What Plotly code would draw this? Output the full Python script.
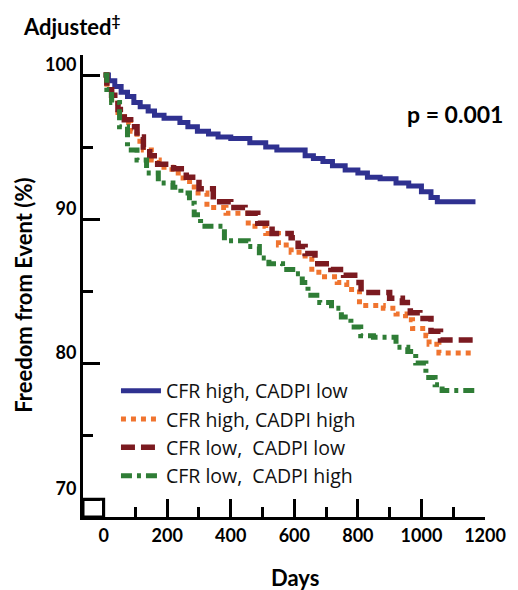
import plotly.graph_objects as go

# ---------------- data ----------------
series_names = ["CFR high, CADPI low", "CFR high, CADPI high",
                "CFR low,\u00a0 CADPI low", "CFR low,\u00a0 CADPI high"]

days_blue = [0, 15, 35, 55, 75, 95, 115, 140, 160, 190, 240, 265, 295, 330, 360, 400,
             460, 510, 545, 634, 660, 690, 720, 760, 800, 830, 870, 920, 960, 1000,
             1030, 1050, 1170]
surv_blue = [100, 99.6, 99.2, 98.8, 98.5, 98.1, 97.8, 97.5, 97.2, 97.0, 96.7, 96.4,
             96.1, 95.9, 95.7, 95.6, 95.3, 95.0, 94.8, 94.4, 94.2, 94.0, 93.7, 93.4,
             93.2, 92.9, 92.8, 92.5, 92.3, 91.9, 91.5, 91.2, 91.2]

days_orange = [0, 10, 25, 45, 65, 85, 105, 125, 150, 175, 215, 250, 285, 325, 385, 455,
               510, 550, 590, 634, 655, 695, 735, 765, 805, 880, 920, 950, 972, 1014,
               1024, 1055, 1170]
surv_orange = [100, 99.0, 98.3, 97.4, 96.7, 96.1, 95.4, 94.8, 94.1, 93.6, 93.2, 92.6,
               91.8, 90.8, 90.4, 89.5, 89.0, 88.2, 87.7, 87.2, 86.3, 86.0, 85.6, 85.1,
               84.0, 83.8, 83.4, 83.0, 82.4, 81.9, 81.3, 80.7, 80.7]

days_red = [0, 10, 25, 45, 65, 85, 105, 125, 145, 170, 220, 260, 300, 345, 400, 445,
            485, 530, 590, 612, 634, 665, 715, 755, 790, 810, 900, 940, 965, 995, 1030,
            1060, 1170]
surv_red = [100, 99.2, 98.6, 97.6, 96.9, 96.4, 95.7, 95.0, 94.4, 93.8, 93.5, 92.9, 92.1,
            91.2, 90.8, 90.4, 89.7, 89.0, 88.7, 88.1, 87.6, 86.9, 86.5, 86.1, 85.6, 84.9,
            84.5, 84.2, 83.5, 83.1, 82.2, 81.6, 81.6]

days_green = [0, 10, 25, 50, 75, 105, 135, 172, 218, 243, 270, 285, 305, 380, 455, 490,
              520, 563, 603, 625, 643, 680, 717, 748, 778, 809, 849, 920, 957, 982, 1014,
              1043, 1065, 1170]
surv_green = [100, 99.0, 98.1, 96.4, 94.8, 94.1, 93.2, 92.5, 92.2, 91.8, 91.1, 90.3,
              89.5, 88.5, 88.1, 87.3, 86.9, 86.5, 86.2, 85.6, 84.7, 84.2, 83.8, 83.2,
              82.5, 81.9, 81.8, 81.1, 80.8, 80.0, 79.0, 78.5, 78.1, 78.1]

x_tickvals = [0, 200, 400, 600, 800, 1000, 1200]
x_ticktext = ["0", "200", "400", "600", "800", "1000", "1200"]
x_minor = [100, 300, 500, 700, 900, 1100]
y_tickvals = [70.55, 80, 90, 100]
y_ticktext = ["70", "80", "90", "100"]
y_minor = [75, 85, 95]

# ---------------- figure ----------------
FONT = "Lato"
LEG_FONT = "Open Sans"
fig = go.Figure()
styles = [
    dict(color="#2f3190", width=5, dash="solid"),
    dict(color="#f0742f", width=5, dash="5px,5px"),
    dict(color="#7b1a20", width=5.5, dash="14px,6px"),
    dict(color="#2f7d36", width=5, dash="11px,5px,4px,5px"),
]
data = [(days_blue, surv_blue), (days_orange, surv_orange),
        (days_red, surv_red), (days_green, surv_green)]
for (dx, sy), name, st in zip(data, series_names, styles):
    fig.add_trace(go.Scatter(x=dx, y=sy, mode="lines", name=name,
                             line=dict(shape="hv", **st)))

# page body has an 8px margin, so the figure is 8px smaller and offset
fig.update_layout(
    width=510, height=582,
    margin=dict(l=75, r=23, t=47, b=73),
    paper_bgcolor="white", plot_bgcolor="white",
    font=dict(family=FONT, color="black"),
    showlegend=True,
    legend=dict(x=0.082, y=0.315, xanchor="left", yanchor="top",
                bgcolor="rgba(0,0,0,0)", font=dict(size=19.5, family=LEG_FONT, color="#111"),
                tracegroupgap=0, itemwidth=40),
)
fig.update_xaxes(
    range=[-65, 1200], showgrid=False, zeroline=False,
    showline=True, linecolor="black", linewidth=3,
    tickmode="array", tickvals=x_tickvals, ticktext=x_ticktext,
    ticks="inside", ticklen=18, tickwidth=3, tickcolor="black",
    tickfont=dict(size=18, family=FONT, color="black", weight="bold"),
    minor=dict(tickvals=x_minor, ticks="inside", ticklen=10, tickwidth=3, tickcolor="black"),
)
fig.update_yaxes(
    range=[69.31, 101.39], showgrid=False, zeroline=False,
    showline=True, linecolor="black", linewidth=3,
    tickmode="array", tickvals=y_tickvals, ticktext=y_ticktext,
    ticks="inside", ticklen=17, tickwidth=3, tickcolor="black",
    tickfont=dict(size=18, family=FONT, color="black", weight="bold"),
    ticklabelshift=-10,
    minor=dict(tickvals=y_minor, ticks="inside", ticklen=10, tickwidth=3, tickcolor="black"),
)
# axis-break box at origin
fig.add_shape(type="rect", xref="x", yref="y", x0=-65, x1=0, y0=69.31, y1=70.55,
              line=dict(color="black", width=3), fillcolor="rgba(0,0,0,0)")

fig.add_annotation(text="Adjusted<sup>‡</sup>", xref="paper", yref="paper",
                   x=-0.153, y=1.064, xanchor="left", yanchor="middle",
                   showarrow=False, font=dict(family=FONT, size=22, color="black", weight="bold"))
fig.add_annotation(text="p = 0.001", xref="paper", yref="paper",
                   x=0.80, y=0.872, xanchor="left", yanchor="middle",
                   showarrow=False, font=dict(family=FONT, size=23, color="black", weight="bold"))
fig.add_annotation(text="Days", xref="paper", yref="paper",
                   x=0.527, y=-0.13, xanchor="center", yanchor="middle",
                   showarrow=False, font=dict(family=FONT, size=22, color="black", weight="bold"))
fig.add_annotation(text="Freedom from Event (%)", xref="paper", yref="paper",
                   x=-0.148, y=0.48, xanchor="center", yanchor="middle", textangle=-90,
                   showarrow=False, font=dict(family=FONT, size=22, color="black", weight="bold"))

fig.write_html("out.html")
